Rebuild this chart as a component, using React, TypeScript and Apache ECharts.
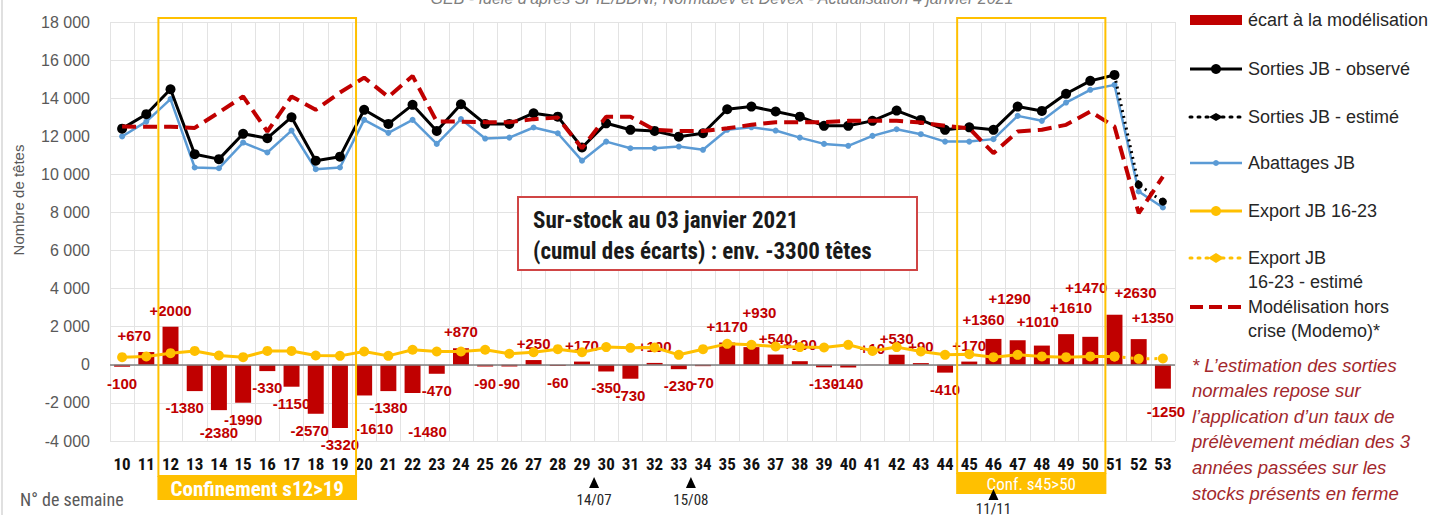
import React, { useEffect, useRef } from 'react';
import * as echarts from 'echarts';

const weeks = ['10','11','12','13','14','15','16','17','18','19','20','21','22','23','24','25','26','27','28','29','30','31','32','33','34','35','36','37','38','39','40','41','42','43','44','45','46','47','48','49','50','51','52','53'];

const ecart = [-100, 670, 2000, -1380, -2380, -1990, -330, -1150, -2570, -3320,
  -1610, -1380, -1480, -470, 870, -90, -90, 250, -60, 170,
  -350, -730, 100, -230, -70, 1170, 930, 540, 190, -130,
  -140, 10, 530, 90, -410, 170, 1360, 1290, 1010, 1610,
  1470, 2630, 1350, -1250];

const sortiesObserve = [12400, 13160, 14470, 11060, 10800, 12130, 11900, 13000, 10720, 10930,
  13390, 12650, 13650, 12280, 13680, 12650, 12650, 13210, 13030, 11410,
  12680, 12340, 12280, 11980, 12160, 13420, 13560, 13300, 13030, 12550,
  12550, 12810, 13350, 12860, 12340, 12470, 12340, 13560, 13330, 14230,
  14910, 15220, null, null];

const sortiesEstime = [null, null, null, null, null, null, null, null, null, null,
  null, null, null, null, null, null, null, null, null, null,
  null, null, null, null, null, null, null, null, null, null,
  null, null, null, null, null, null, null, null, null, null,
  null, 15220, 9450, 8570];

const abattages = [11990, 12770, 13950, 10360, 10320, 11670, 11150, 12300, 10270, 10360,
  12860, 12180, 12860, 11600, 12900, 11880, 11930, 12460, 12160, 10720,
  11720, 11370, 11370, 11460, 11290, 12340, 12470, 12300, 11930, 11600,
  11500, 12020, 12370, 12110, 11720, 11720, 11850, 13070, 12810, 13770,
  14440, 14700, 9100, 8260];

const exportObserve = [400, 440, 610, 730, 490, 400, 730, 730, 490, 470,
  700, 470, 790, 700, 700, 790, 580, 660, 820, 660,
  930, 890, 910, 525, 820, 1100, 1050, 960, 930, 910,
  1050, 730, 930, 700, 525, 560, 400, 525, 440, 400,
  440, 440, null, null];

const exportEstime = [null, null, null, null, null, null, null, null, null, null,
  null, null, null, null, null, null, null, null, null, null,
  null, null, null, null, null, null, null, null, null, null,
  null, null, null, null, null, null, null, null, null, null,
  null, 440, 315, 330];

const modemo = [12510, 12500, 12500, 12440, 13250, 14090, 12250, 14090, 13390, 14300,
  15080, 14070, 15170, 12770, 12770, 12740, 12740, 12900, 12980, 11370,
  13030, 13030, 12340, 12280, 12280, 12420, 12600, 12740, 12740, 12740,
  12810, 12810, 12810, 12720, 12550, 12420, 11110, 12250, 12340, 12600,
  13300, 12510, 7960, 9880];

const yMin = -4000;
const yMax = 18000;
const yStep = 2000;

const names = {
  ecart: 'écart à la modélisation',
  obs: 'Sorties JB - observé',
  est: 'Sorties JB - estimé',
  abat: 'Abattages JB',
  exp: 'Export JB 16-23',
  expEst: 'Export JB\n16-23 - estimé',
  modemo: 'Modélisation hors\ncrise (Modemo)*',
};

const footnote = [
  '* L\u2019estimation des sorties',
  'normales repose sur',
  'l\u2019application d\u2019un taux de',
  'prélèvement médian des 3',
  'années passées sur les',
  'stocks présents en ferme',
];

const titleText = 'GEB - Idele d\u2019après SPIE/BDNI, Normabev et Devex - Actualisation 4 janvier 2021';
const boxText = 'Sur-stock au 03 janvier 2021\n(cumul des écarts) : env. -3300 têtes';

// label placement tweaks (style only, by week)
const labelNudge: Record<string, [number, number]> = {
  '11': [-12, 0], '13': [-10, 0], '14': [0, 6], '18': [-6, 0], '20': [10, 17], '22': [15, 22],
  '36': [8, -18], '46': [-10, -3], '47': [-8, -25], '48': [-4, -8], '49': [5, -10],
  '50': [-4, -33], '51': [21, -6], '52': [14, -5], '53': [3, 6],
};

const RED = '#C00000';
const BLACK = '#000000';
const BLUE = '#5B9BD5';
const YELLOW = '#FFC000';
const GRAY = '#595959';
const NARROW = "'Liberation Sans Narrow', 'Arial Narrow', 'Roboto Condensed', Roboto, sans-serif";
const SANS = "'Liberation Sans', Arial, sans-serif";

function fmtThousands(v: number): string {
  const s = Math.abs(v).toString().replace(/\B(?=(\d{3})+(?!\d))/g, ' ');
  return (v < 0 ? '-' : '') + s;
}

export default function App() {
  const ref = useRef<HTMLDivElement>(null);
  useEffect(() => {
    const chart = echarts.init(ref.current!, null, { renderer: 'svg' });
    chart.setOption({
      animation: false,
      grid: { left: 110, right: 254, top: 22, bottom: 74 },
      xAxis: {
        type: 'category',
        data: weeks,
        axisLine: { show: false },
        axisTick: { show: false },
        axisLabel: { interval: 0, margin: 14, color: '#111', fontWeight: 'bold', fontSize: 17, fontFamily: NARROW },
        splitLine: { show: true, interval: 0, lineStyle: { color: '#e3e3e3', width: 1 } },
      },
      yAxis: {
        type: 'value',
        min: yMin,
        max: yMax,
        interval: yStep,
        axisLine: { show: false },
        axisTick: { show: false },
        axisLabel: { formatter: (v: number) => fmtThousands(v), color: GRAY, fontSize: 16, margin: 20, fontFamily: SANS },
        splitLine: { lineStyle: { color: '#e3e3e3', width: 1 } },
      },
      series: [
        {
          name: names.ecart,
          type: 'bar',
          barWidth: '66%',
          itemStyle: { color: RED },
          data: ecart.map((v) => ({ value: v, label: { position: v >= 0 ? 'top' : 'bottom' } })),
          label: {
            show: true,
            distance: 9,
            color: RED,
            fontWeight: 'bold',
            fontSize: 15,
            fontFamily: SANS,
            formatter: (p: any) => (p.value > 0 ? '+' + p.value : String(p.value)),
          },
          labelLayout: (p: any) => {
            const n = labelNudge[weeks[p.dataIndex]];
            return n ? { dx: n[0], dy: n[1] } : {};
          },
          markLine: {
            silent: true,
            symbol: 'none',
            label: { show: false },
            lineStyle: { color: '#7f7f7f', width: 1.5, type: 'solid' },
            data: [{ yAxis: 0 }],
          },
          z: 2,
        },
        {
          name: names.abat,
          type: 'line',
          data: abattages,
          symbol: 'circle',
          symbolSize: 6,
          lineStyle: { color: BLUE, width: 2.5 },
          itemStyle: { color: BLUE },
          z: 3,
        },
        {
          name: names.est,
          type: 'line',
          data: sortiesEstime,
          symbol: 'circle',
          symbolSize: 8,
          lineStyle: { color: BLACK, width: 3, type: [2, 4] },
          itemStyle: { color: BLACK },
          z: 4,
        },
        {
          name: names.obs,
          type: 'line',
          data: sortiesObserve,
          symbol: 'circle',
          symbolSize: 10,
          lineStyle: { color: BLACK, width: 3 },
          itemStyle: { color: BLACK },
          z: 4,
        },
        {
          name: names.expEst,
          type: 'line',
          data: exportEstime,
          symbol: 'circle',
          symbolSize: 10,
          lineStyle: { color: YELLOW, width: 3, type: [3, 5] },
          itemStyle: { color: YELLOW },
          z: 4,
        },
        {
          name: names.exp,
          type: 'line',
          data: exportObserve,
          symbol: 'circle',
          symbolSize: 10,
          lineStyle: { color: YELLOW, width: 3 },
          itemStyle: { color: YELLOW },
          z: 4,
        },
        {
          name: names.modemo,
          type: 'line',
          data: modemo,
          symbol: 'none',
          lineStyle: { color: RED, width: 4, type: [14, 7] },
          itemStyle: { color: RED },
          z: 5,
        },
      ],
    });

    const cx = (w: string) => chart.convertToPixel({ xAxisIndex: 0 }, w) as number;
    const band = cx('11') - cx('10');
    const c1L = cx('12') - band / 2;
    const c1R = cx('19') + band / 2 + 4;
    const c2L = cx('45') - band / 2;
    const c2R = cx('50') + band / 2 + 3;
    const t1 = cx('29') + band / 2;
    const t2 = cx('33') + band / 2;
    const t3 = cx('46');

    const tri = (x: number, y: number) => ({
      type: 'polygon',
      shape: { points: [[x, y], [x - 5, y + 11], [x + 5, y + 11]] },
      style: { fill: '#000' },
      z: 20,
    });

    const txt = (text: string, x: number, y: number, o: any = {}) => ({
      type: 'text',
      x,
      y,
      z: 20,
      style: {
        text,
        fill: o.fill || '#262626',
        fontSize: o.fontSize || 18,
        fontFamily: o.fontFamily || SANS,
        fontWeight: o.fontWeight || 'normal',
        fontStyle: o.fontStyle || 'normal',
        align: o.align || 'left',
        verticalAlign: o.verticalAlign || 'middle',
        lineHeight: o.lineHeight,
      },
      rotation: o.rotation || 0,
    });

    const LX0 = 1190;
    const LX1 = 1242;
    const LM = 1216;
    const LT = 1248;
    const legendY = [20, 69, 117, 163, 211, 258, 307];

    const legend: any[] = [
      { type: 'rect', shape: { x: LX0, y: legendY[0] - 5, width: LX1 - LX0, height: 10 }, style: { fill: RED }, z: 20 },
      txt(names.ecart, LT, legendY[0]),
      { type: 'line', shape: { x1: LX0, y1: legendY[1], x2: LX1, y2: legendY[1] }, style: { stroke: BLACK, lineWidth: 3 }, z: 20 },
      { type: 'circle', shape: { cx: LM, cy: legendY[1], r: 5 }, style: { fill: BLACK }, z: 21 },
      txt(names.obs, LT, legendY[1]),
      { type: 'line', shape: { x1: LX0, y1: legendY[2], x2: LX1, y2: legendY[2] }, style: { stroke: BLACK, lineWidth: 3, lineDash: [2, 6], lineCap: 'round' }, z: 20 },
      { type: 'polygon', shape: { points: [[LM - 7, legendY[2]], [LM, legendY[2] - 4], [LM + 7, legendY[2]], [LM, legendY[2] + 4]] }, style: { fill: BLACK }, z: 21 },
      txt(names.est, LT, legendY[2]),
      { type: 'line', shape: { x1: LX0, y1: legendY[3], x2: LX1, y2: legendY[3] }, style: { stroke: BLUE, lineWidth: 2.5 }, z: 20 },
      { type: 'circle', shape: { cx: LM, cy: legendY[3], r: 3 }, style: { fill: BLUE }, z: 21 },
      txt(names.abat, LT, legendY[3]),
      { type: 'line', shape: { x1: LX0, y1: legendY[4], x2: LX1, y2: legendY[4] }, style: { stroke: YELLOW, lineWidth: 3 }, z: 20 },
      { type: 'circle', shape: { cx: LM, cy: legendY[4], r: 5 }, style: { fill: YELLOW }, z: 21 },
      txt(names.exp, LT, legendY[4]),
      { type: 'line', shape: { x1: LX0, y1: legendY[5], x2: LX1, y2: legendY[5] }, style: { stroke: YELLOW, lineWidth: 3, lineDash: [2, 6], lineCap: 'round' }, z: 20 },
      { type: 'polygon', shape: { points: [[LM - 8, legendY[5]], [LM, legendY[5] - 5], [LM + 8, legendY[5]], [LM, legendY[5] + 5]] }, style: { fill: YELLOW }, z: 21 },
      txt(names.expEst, LT, legendY[5] - 12, { verticalAlign: 'top', lineHeight: 24 }),
      { type: 'line', shape: { x1: LX0, y1: legendY[6], x2: LX1, y2: legendY[6] }, style: { stroke: RED, lineWidth: 4, lineDash: [13, 6] }, z: 20 },
      txt(names.modemo, LT, legendY[6] - 12, { verticalAlign: 'top', lineHeight: 24 }),
    ];

    const foot: any[] = footnote.map((line, i) =>
      txt(line, 1192, 365 + i * 25.6, { fill: '#A3282C', fontStyle: 'italic', fontSize: 18.5 })
    );

    chart.setOption({
      graphic: [
        { type: 'line', shape: { x1: 2, y1: 0, x2: 2, y2: 515 }, style: { stroke: '#d6d6d6', lineWidth: 1.5 }, z: 1 },
        txt(titleText, 722, -2, { fill: '#7f7f7f', fontStyle: 'italic', fontSize: 16, align: 'center' }),
        // confinement 1
        { type: 'rect', shape: { x: c1L, y: 18, width: c1R - c1L, height: 458 }, style: { fill: 'none', stroke: YELLOW, lineWidth: 2 }, z: 15 },
        { type: 'rect', shape: { x: c1L - 1, y: 476, width: c1R - c1L + 2, height: 24 }, style: { fill: YELLOW }, z: 15 },
        txt('Confinement s12>19', (c1L + c1R) / 2, 489, { fill: '#fff', fontSize: 21, fontFamily: NARROW, fontWeight: 'bold', align: 'center' }),
        // confinement 2
        { type: 'rect', shape: { x: c2L, y: 18, width: c2R - c2L, height: 455 }, style: { fill: 'none', stroke: YELLOW, lineWidth: 2 }, z: 15 },
        { type: 'rect', shape: { x: c2L - 1, y: 473, width: c2R - c2L + 2, height: 21 }, style: { fill: YELLOW }, z: 15 },
        txt('Conf. s45>50', (c2L + c2R) / 2, 484, { fill: '#fff', fontSize: 17, fontFamily: NARROW, align: 'center' }),
        // dates
        tri(t1, 477),
        txt('14/07', t1, 500, { fontSize: 15, fontFamily: NARROW, align: 'center' }),
        tri(t2, 477),
        txt('15/08', t2, 500, { fontSize: 15, fontFamily: NARROW, align: 'center' }),
        tri(t3, 489),
        txt('11/11', t3, 509, { fontSize: 15, fontFamily: NARROW, align: 'center' }),
        // axis names
        txt('N° de semaine', 20, 499, { fill: GRAY, fontSize: 18, fontFamily: NARROW }),
        txt('Nombre de têtes', 18, 200, { fill: GRAY, fontSize: 15, align: 'center', rotation: Math.PI / 2 }),
        // annotation box
        { type: 'rect', shape: { x: 518, y: 197, width: 399, height: 73 }, style: { fill: '#fff', stroke: '#D04545', lineWidth: 2 }, z: 16 },
        txt(boxText, 533, 205, { fill: '#1a1a1a', fontSize: 23, fontFamily: NARROW, fontWeight: 'bold', verticalAlign: 'top', lineHeight: 31 }),
        ...legend,
        ...foot,
      ],
    });

    return () => chart.dispose();
  }, []);

  return <div ref={ref} style={{ position: 'fixed', left: 0, top: 0, width: 1429, height: 515, background: '#fff' }} />;
}
